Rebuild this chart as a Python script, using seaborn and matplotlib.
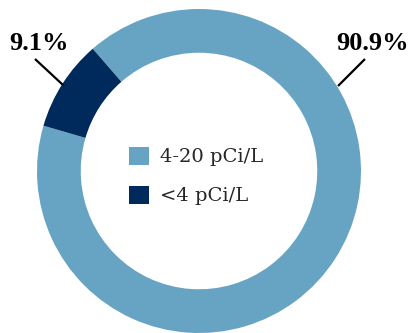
import matplotlib
matplotlib.use("Agg")
import matplotlib.pyplot as plt
import seaborn as sns
from matplotlib.patches import Patch

categories = ["4-20 pCi/L", "<4 pCi/L"]
values = [90.9, 9.1]
pct_labels = ["90.9%", "9.1%"]
colors = ["#67A4C3", "#002A5C"]

sns.set_style("white")
plt.rcParams["font.family"] = ["DejaVu Serif"]

W, H = 412, 333
fig = plt.figure(figsize=(W / 100, H / 100), dpi=100)
ax = fig.add_axes([0, 0, 1, 1])

cx, cy, R = 199, 171, 162

def d(x, y):
    return ((x - cx) / R, (cy - y) / R)

wedges, _ = ax.pie(values, colors=colors, startangle=131.0, counterclock=False,
                   radius=1.0, wedgeprops=dict(width=0.27, linewidth=0))
ax.set_xlim(-cx / R, (W - cx) / R)
ax.set_ylim(-(H - cy) / R, cy / R)
ax.set_aspect("auto")
ax.axis("off")

lab_font = dict(family=["Liberation Serif"], fontweight="bold", fontsize=19,
                ha="center", va="center", color="black")

# leader lines
for (x0, y0), (x1, y1) in [((365, 59), (338, 86)), ((35, 59), (63, 85))]:
    (a0, b0), (a1, b1) = d(x0, y0), d(x1, y1)
    ax.plot([a0, a1], [b0, b1], color="black", lw=1.6, solid_capstyle="butt")

ax.text(*d(373, 43), pct_labels[0], **lab_font)
ax.text(*d(39, 43), pct_labels[1], **lab_font)

handles = [Patch(facecolor=c, edgecolor="none") for c in colors]
ax.legend(handles, categories, loc="center", bbox_to_anchor=d(196, 176),
          bbox_transform=ax.transData, frameon=False,
          prop=dict(family="DejaVu Serif", size=14),
          handlelength=1.05, handleheight=1.05, handletextpad=0.55,
          labelspacing=1.0, borderpad=0)

fig.savefig("out.png", dpi=100)
